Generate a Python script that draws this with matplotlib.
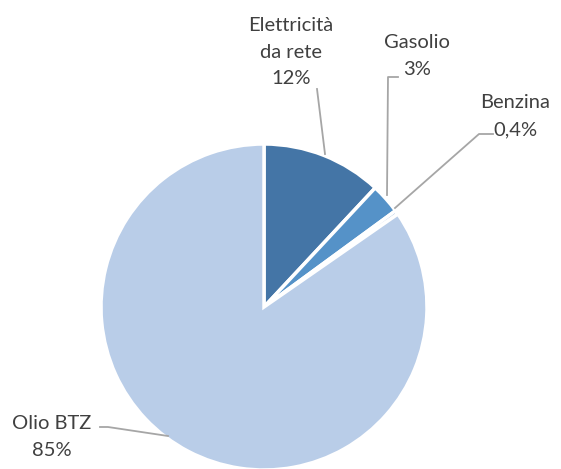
import matplotlib.pyplot as plt

labels = ['Elettricità\nda rete\n12%', 'Gasolio\n3%', 'Benzina\n0,4%', 'Olio BTZ\n85%']
values = [12, 3, 0.4, 85]
colors = ['#4475a6', '#5592c8', '#a9c3e3', '#b9cde8']

W, H = 561, 469
cx, cy, r = 264, 307, 163

def d(px, py):
    # pixel (from top-left) -> data coords of the pie axes
    return ((px - cx) / r, (cy - py) / r)

fig = plt.figure(figsize=(W / 100, H / 100), dpi=100)
ax = fig.add_axes([(cx - r) / W, (H - cy - r) / H, 2 * r / W, 2 * r / H])
ax.pie(values, colors=colors, startangle=90, counterclock=False, radius=1,
       wedgeprops=dict(edgecolor='white', linewidth=2.5))
ax.set_xlim(-1, 1)
ax.set_ylim(-1, 1)
ax.set_aspect('equal')
ax.axis('off')

font = dict(family='Lato', fontsize=14.5, color='#404040', linespacing=1.7,
            ha='center', va='center')

# label text positions (pixel) and leader lines (pixel)
text_pos = [(291, 52), (417, 56), (515, 116), (52, 437)]
leaders = [
    [(317, 89), (325, 154)],
    [(398, 77), (388, 77), (387, 195)],
    [(493, 134), (479, 134), (395, 208)],
    [(100, 427), (108, 427), (168, 436)],
]

for lab, tp, ln in zip(labels, text_pos, leaders):
    x, y = d(*tp)
    ax.text(x, y, lab, clip_on=False, **font)
    xs = [d(*p)[0] for p in ln]
    ys = [d(*p)[1] for p in ln]
    ax.plot(xs, ys, color='#a6a6a6', lw=1.3, clip_on=False)

fig.savefig('out.png', dpi=100)
